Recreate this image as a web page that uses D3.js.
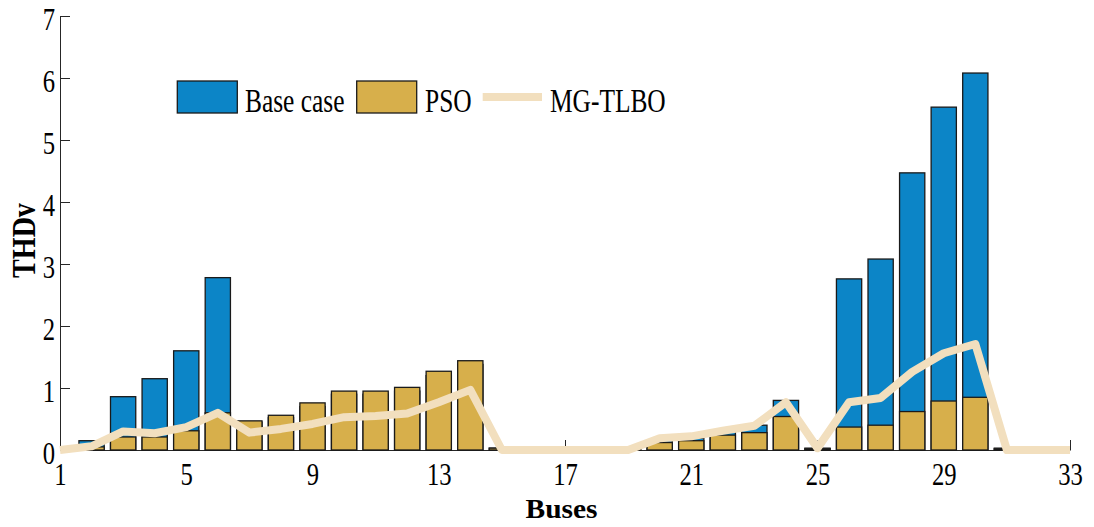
<!DOCTYPE html>
<html>
<head>
<meta charset="utf-8">
<script src="https://cdn.jsdelivr.net/npm/d3@7"></script>
<style>
  body { margin: 0; background: #fff; }
  svg { display: block; }
  text { font-family: "Liberation Serif", "Times New Roman", serif; fill: #000; }
</style>
</head>
<body>
<svg id="chart" width="1094" height="527"></svg>
<script>
// Bus numbers of the 33-bus feeder
const buses = [1, 2, 3, 4, 5, 6, 7, 8, 9, 10, 11, 12, 13, 14, 15, 16, 17,
               18, 19, 20, 21, 22, 23, 24, 25, 26, 27, 28, 29, 30, 31, 32, 33];

// THDv (%) per bus
const baseCase = [0.00, 0.15, 0.86, 1.15, 1.60, 2.78, 0.45, 0.52, 0.70, 0.90, 0.90, 0.95, 1.20, 1.38, 0.03, 0.00, 0.00,
                  0.00, 0.01, 0.15, 0.19, 0.30, 0.40, 0.80, 0.03, 2.76, 3.08, 4.47, 5.53, 6.08, 0.03, 0.00, 0.00];
const pso      = [0.00, 0.05, 0.21, 0.21, 0.31, 0.60, 0.47, 0.56, 0.76, 0.95, 0.95, 1.01, 1.27, 1.44, 0.03, 0.00, 0.00,
                  0.00, 0.01, 0.12, 0.15, 0.24, 0.28, 0.54, 0.02, 0.37, 0.40, 0.62, 0.79, 0.85, 0.02, 0.00, 0.00];
const mgTlbo   = [0.00, 0.06, 0.30, 0.27, 0.37, 0.60, 0.28, 0.34, 0.42, 0.53, 0.55, 0.59, 0.77, 0.97, 0.00, 0.00, 0.00,
                  0.00, 0.00, 0.19, 0.22, 0.31, 0.39, 0.77, 0.03, 0.77, 0.84, 1.26, 1.56, 1.71, 0.00, 0.00, 0.00];

const seriesNames = ["Base case", "PSO", "MG-TLBO"];
const xTicks = [1, 5, 9, 13, 17, 21, 25, 29, 33];
const yTicks = [0, 1, 2, 3, 4, 5, 6, 7];

const colors = { base: "#0C85C7", pso: "#D7AF4B", line: "#F2DFBE", edge: "#1a1a1a", axis: "#262626" };
const squeeze = 0.77;   // narrow serif glyphs

const svg = d3.select("#chart");
const x = d3.scaleLinear().domain([1, 33]).range([60, 1070]);
const y = d3.scaleLinear().domain([0, 7]).range([450, 16]);
const barW = 0.8 * (x(2) - x(1));

svg.append("defs").append("clipPath").attr("id", "plotClip")
  .append("rect").attr("x", x(1)).attr("y", 0).attr("width", x(33) - x(1)).attr("height", y(0) + 2);

// Axes (inward ticks, no box)
const yAxis = svg.append("g").attr("transform", `translate(${x(1)},0)`)
  .call(d3.axisLeft(y).tickValues(yTicks).tickSize(-10).tickSizeOuter(0).tickFormat(d3.format("d")));
const xAxis = svg.append("g").attr("transform", `translate(0,${y(0)})`)
  .call(d3.axisBottom(x).tickValues(xTicks).tickSize(-10).tickSizeOuter(0).tickFormat(d3.format("d")));

[yAxis, xAxis].forEach(g => {
  g.select(".domain").attr("stroke", colors.axis).attr("stroke-width", 1);
  g.selectAll(".tick line").attr("stroke", colors.axis).attr("stroke-width", 1);
  g.selectAll(".tick text").attr("fill", "#000").style("font-size", "32px")
    .style("font-family", '"Liberation Serif", "Times New Roman", serif');
});
yAxis.selectAll(".tick text").attr("x", null).attr("dy", null)
  .attr("text-anchor", "end")
  .attr("transform", `translate(-5,13) scale(${squeeze},1)`);
xAxis.selectAll(".tick text").attr("y", null).attr("dy", null)
  .attr("text-anchor", "middle")
  .attr("transform", `translate(0,35) scale(${squeeze},1)`);

const plot = svg.append("g").attr("clip-path", "url(#plotClip)");

// Base case bars, PSO bars overlaid on the same bus positions
function drawBars(values, fill) {
  plot.append("g").selectAll("rect").data(buses)
    .join("rect")
    .attr("x", (d) => x(d) - barW / 2)
    .attr("width", barW)
    .attr("y", (d, i) => y(values[i]))
    .attr("height", (d, i) => y(0) - y(values[i]))
    .attr("fill", fill)
    .attr("stroke", colors.edge)
    .attr("stroke-width", 1.3);
}
drawBars(baseCase, colors.base);
drawBars(pso, colors.pso);

// MG-TLBO profile
const line = d3.line().x((d) => x(d)).y((d, i) => y(mgTlbo[i]));
svg.append("path").datum(buses)
  .attr("d", line)
  .attr("fill", "none")
  .attr("stroke", colors.line)
  .attr("stroke-width", 8)
  .attr("stroke-linejoin", "round");

// Legend
const legend = svg.append("g");
const legendItems = [
  { name: seriesNames[0], type: "bar", fill: colors.base, sx: 177.3, tx: 245 },
  { name: seriesNames[1], type: "bar", fill: colors.pso, sx: 356.7, tx: 425 },
  { name: seriesNames[2], type: "line", fill: colors.line, sx: 482.7, tx: 550 }
];
legendItems.forEach(it => {
  if (it.type === "bar") {
    legend.append("rect").attr("x", it.sx).attr("y", 81).attr("width", 60).attr("height", 32)
      .attr("fill", it.fill).attr("stroke", colors.edge).attr("stroke-width", 1.3);
  } else {
    legend.append("line").attr("x1", it.sx).attr("x2", it.sx + 59.3).attr("y1", 97).attr("y2", 97)
      .attr("stroke", it.fill).attr("stroke-width", 8);
  }
  legend.append("text").attr("transform", `translate(${it.tx},112) scale(${squeeze},1)`)
    .style("font-size", "33px").text(it.name);
});

// Axis titles
svg.append("text")
  .attr("x", 561.5).attr("y", 518)
  .attr("text-anchor", "middle")
  .style("font-size", "27px").style("font-weight", "bold")
  .attr("textLength", 72).attr("lengthAdjust", "spacingAndGlyphs")
  .text("Buses");

svg.append("text")
  .attr("transform", "translate(35,240.5) rotate(-90) scale(0.85,1)")
  .attr("text-anchor", "middle")
  .style("font-size", "33px").style("font-weight", "bold")
  .text("THDv");
</script>
</body>
</html>
